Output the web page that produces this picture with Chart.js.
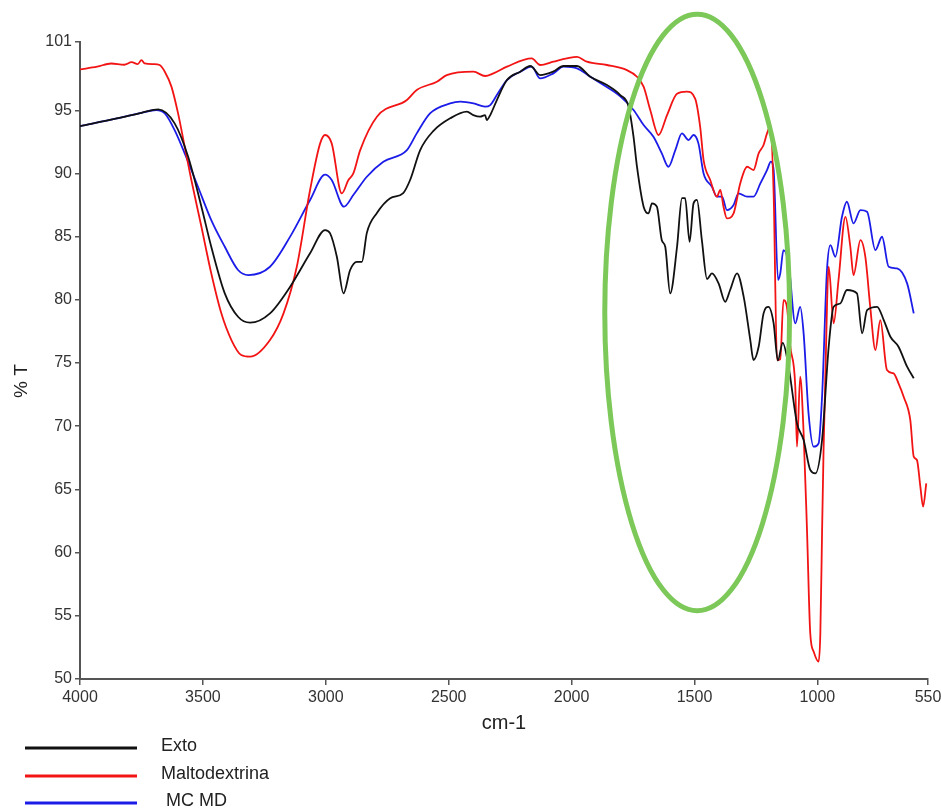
<!DOCTYPE html>
<html><head><meta charset="utf-8">
<script src="https://cdn.jsdelivr.net/npm/chart.js@4/dist/chart.umd.min.js"></script>
<style>html,body{margin:0;padding:0;background:#fff;}#wrap{width:941px;height:812px;position:relative;}</style>
</head><body><div id="wrap"><canvas id="c" width="941" height="812"></canvas></div>
<script>
// ---- data (wavenumber cm-1, %T) ----
const xTicks = [4000, 3500, 3000, 2500, 2000, 1500, 1000, 550];
const yTicks = [50, 55, 60, 65, 70, 75, 80, 85, 90, 95, 100.4];
const seriesNames = ['Exto', 'Maltodextrina', ' MC MD'];

const extoWn = [4000,3850,3750,3682,3615,3560,3506,3466,3411,3357,3308,3227,3145,3064,3003,2983,2955,2928,2901,2874,2853,2833,2792,2738,2685,2657,2616,2563,2494,2426,2400,2372,2352,2345,2331,2304,2263,2209,2168,2128,2075,2033,1978,1924,1856,1802,1768,1748,1734,1707,1687,1673,1653,1633,1619,1599,1571,1551,1538,1520,1504,1490,1470,1449,1429,1402,1375,1355,1327,1300,1273,1260,1239,1219,1199,1178,1161,1141,1117,1083,1056,1029,1008,981,954,934,907,880,839,818,798,757,730,703,670,635,608];
const extoT  = [93.75,94.35,94.8,95.07,93.96,91.32,87.37,84.2,80.51,78.66,78.19,78.93,81.04,83.68,85.52,85.28,83.41,80.51,82.36,83.01,83.01,85.3,86.87,88.04,88.45,89.48,91.85,93.35,94.36,94.89,94.62,94.49,94.62,94.22,94.62,95.81,97.39,98.05,98.5,97.78,98.05,98.5,98.5,97.65,96.99,96.2,95.28,92.9,90.53,87.37,86.84,87.63,87.37,84.72,84.2,80.51,84.2,88.04,88.04,84.59,87.63,87.91,84.72,81.65,82.09,81.3,79.85,80.78,82.09,80.25,76.82,75.24,76.29,78.93,79.45,78.14,75.2,76.6,74.7,70.23,68.91,66.54,66.27,68.91,76.29,79.45,79.71,80.78,80.51,77.35,79.19,79.45,78.4,77.08,76.29,74.71,73.79];

const maltoWn = [4000,3930,3873,3820,3790,3765,3750,3737,3700,3676,3655,3628,3601,3574,3547,3506,3466,3425,3384,3344,3308,3227,3172,3118,3064,3023,3003,2976,2935,2908,2888,2860,2792,2670,2630,2548,2508,2399,2352,2318,2263,2162,2128,2074,2019,1978,1938,1856,1775,1734,1707,1680,1646,1612,1571,1531,1497,1477,1463,1436,1409,1395,1382,1368,1341,1314,1286,1260,1239,1219,1205,1192,1178,1164,1151,1138,1124,1110,1090,1083,1070,1056,1042,1029,1015,995,988,981,975,968,954,934,914,886,866,853,825,805,785,764,744,717,690,670,649,622,608,595,581,570,557];
const maltoT  = [98.23,98.45,98.7,98.6,98.8,98.65,98.97,98.7,98.65,98.58,98.05,96.87,94.75,92.11,89.48,85.78,82.1,78.93,76.82,75.63,75.5,76.82,78.93,82.62,88.69,92.38,93.04,92.38,88.42,89.48,90.0,91.85,94.49,95.81,96.6,97.26,97.78,98.05,97.71,97.92,98.45,99.1,98.58,98.84,99.1,99.23,98.84,98.58,98.18,97.65,96.87,95.02,93.04,94.6,96.3,96.47,95.9,93.7,91.06,89.48,88.16,88.69,87.37,86.44,86.84,89.21,90.53,90.27,91.59,92.25,93.17,93.7,88.42,75.24,75.3,79.98,79.45,76.29,73.14,68.38,73.92,69.44,61.6,53.6,52.16,51.37,53.6,61.6,68,73.65,82.62,78.14,81.57,86.57,84.2,81.96,84.73,83.41,79.45,76.03,78.4,74.45,74.18,73.39,72.33,70.49,67.59,67.33,65.21,63.64,65.48];

const mcmdWn = [4000,3850,3750,3690,3655,3615,3574,3520,3466,3411,3357,3315,3227,3145,3064,3003,2976,2926,2888,2833,2766,2670,2630,2576,2494,2453,2399,2352,2331,2304,2263,2209,2162,2128,2074,2033,1978,1924,1870,1802,1748,1707,1667,1633,1606,1578,1551,1524,1504,1484,1463,1429,1409,1388,1368,1341,1321,1286,1260,1232,1205,1189,1178,1160,1151,1138,1117,1090,1070,1056,1036,1015,995,981,961,947,927,900,880,853,825,798,764,737,710,676,635,608];
const mcmdT  = [93.75,94.35,94.8,95.02,94.75,93.43,91.59,88.95,86.31,84.2,82.36,81.96,82.62,85.0,87.9,89.9,89.48,87.37,88.29,89.74,90.93,91.85,93.17,94.75,95.54,95.68,95.54,95.28,95.41,96.2,97.39,98.05,98.45,97.52,97.92,98.45,98.32,97.65,96.99,96.1,95.02,93.83,92.9,91.59,90.53,91.85,93.17,92.64,93.04,92.38,90.0,88.95,88.16,88.16,87.1,87.5,88.42,88.16,88.16,89.21,90.27,90.93,90.27,81.57,82.09,83.94,82.88,78.14,79.45,77.35,71.02,68.38,68.65,72.33,82.36,84.33,83.41,86.57,87.76,86.05,87.1,86.97,83.94,84.99,82.62,82.49,81.3,78.93];

// highlight ellipse (data units: centre wn, centre %T, half-width cm-1, half-height %T)
const ellipse = {cx: 1489, cy: 79.0, rx: 376, ry: 23.6};

const colors = ['#111111', '#f21414', '#1c1ce8'];

function pts(wn, t) { return wn.map((w, i) => ({x: w, y: t[i]})); }

const tickFont = {family: '"Liberation Sans Narrow", "Arial Narrow", Arial, sans-serif', size: 16};

const overlay = {
  id: 'overlay',
  afterDatasetsDraw(chart) {
    const {ctx, scales: {x, y}} = chart;
    const cx = x.getPixelForValue(ellipse.cx), cy = y.getPixelForValue(ellipse.cy);
    const rx = Math.abs(x.getPixelForValue(ellipse.cx - ellipse.rx) - cx);
    const ry = Math.abs(y.getPixelForValue(ellipse.cy + ellipse.ry) - cy);
    ctx.save();
    ctx.beginPath();
    ctx.ellipse(cx, cy, rx, ry, 0, 0, Math.PI * 2);
    ctx.strokeStyle = '#7cc858';
    ctx.lineWidth = 5;
    ctx.stroke();
    ctx.restore();
  },
  afterDraw(chart) {
    const {ctx} = chart;
    ctx.save();
    // y title
    ctx.translate(22, 381);
    ctx.rotate(-Math.PI / 2);
    ctx.fillStyle = '#222';
    ctx.font = '19px Arial, "Liberation Sans", sans-serif';
    ctx.textAlign = 'center';
    ctx.textBaseline = 'middle';
    ctx.fillText('% T', 0, 0);
    ctx.restore();
    // legend
    ctx.save();
    const ys = [748, 776, 803];
    seriesNames.forEach((n, i) => {
      ctx.beginPath();
      ctx.moveTo(25, ys[i]);
      ctx.lineTo(137, ys[i]);
      ctx.strokeStyle = colors[i];
      ctx.lineWidth = 3;
      ctx.stroke();
      ctx.fillStyle = '#222';
      ctx.font = '18px Arial, "Liberation Sans", sans-serif';
      ctx.textAlign = 'left';
      ctx.textBaseline = 'middle';
      ctx.fillText(n, 161, ys[i] - 2);
    });
    ctx.restore();
  }
};

new Chart(document.getElementById('c'), {
  type: 'line',
  data: {
    datasets: [
      {label: seriesNames[0], data: pts(extoWn, extoT), borderColor: colors[0]},
      {label: seriesNames[1], data: pts(maltoWn, maltoT), borderColor: colors[1]},
      {label: seriesNames[2], data: pts(mcmdWn, mcmdT), borderColor: colors[2]}
    ].map(d => Object.assign(d, {borderWidth: 1.8, pointRadius: 0, fill: false, cubicInterpolationMode: 'monotone'}))
  },
  options: {
    responsive: false,
    animation: false,
    layout: {padding: {left: 0, right: 13, top: 42, bottom: 72}},
    plugins: {legend: {display: false}, tooltip: {enabled: false}},
    scales: {
      x: {
        type: 'linear', reverse: true, min: 550, max: 4000,
        afterBuildTicks: s => { s.ticks = xTicks.map(v => ({value: v})); },
        afterFit: s => { s.height = 61; s.paddingRight = 0; s.paddingLeft = 0; },
        grid: {drawOnChartArea: false, tickLength: 6, color: '#555', lineWidth: 1.5},
        border: {color: '#555', width: 2},
        ticks: {font: tickFont, color: '#333', padding: 3, maxRotation: 0, autoSkip: false, callback: v => String(v)},
        title: {display: true, text: 'cm-1', font: {family: 'Arial, "Liberation Sans", sans-serif', size: 20}, color: '#222', padding: {top: 0, bottom: 5}}
      },
      y: {
        type: 'linear', min: 50, max: 100.4,
        afterBuildTicks: s => { s.ticks = yTicks.map(v => ({value: v})); },
        afterFit: s => { s.width = 80; },
        grid: {drawOnChartArea: false, tickLength: 5, color: '#555', lineWidth: 1.5},
        border: {color: '#555', width: 2},
        ticks: {font: tickFont, color: '#333', padding: 3, autoSkip: false, callback: v => v > 100 ? '101' : String(v)}
      }
    }
  },
  plugins: [overlay]
});
</script></body></html>
